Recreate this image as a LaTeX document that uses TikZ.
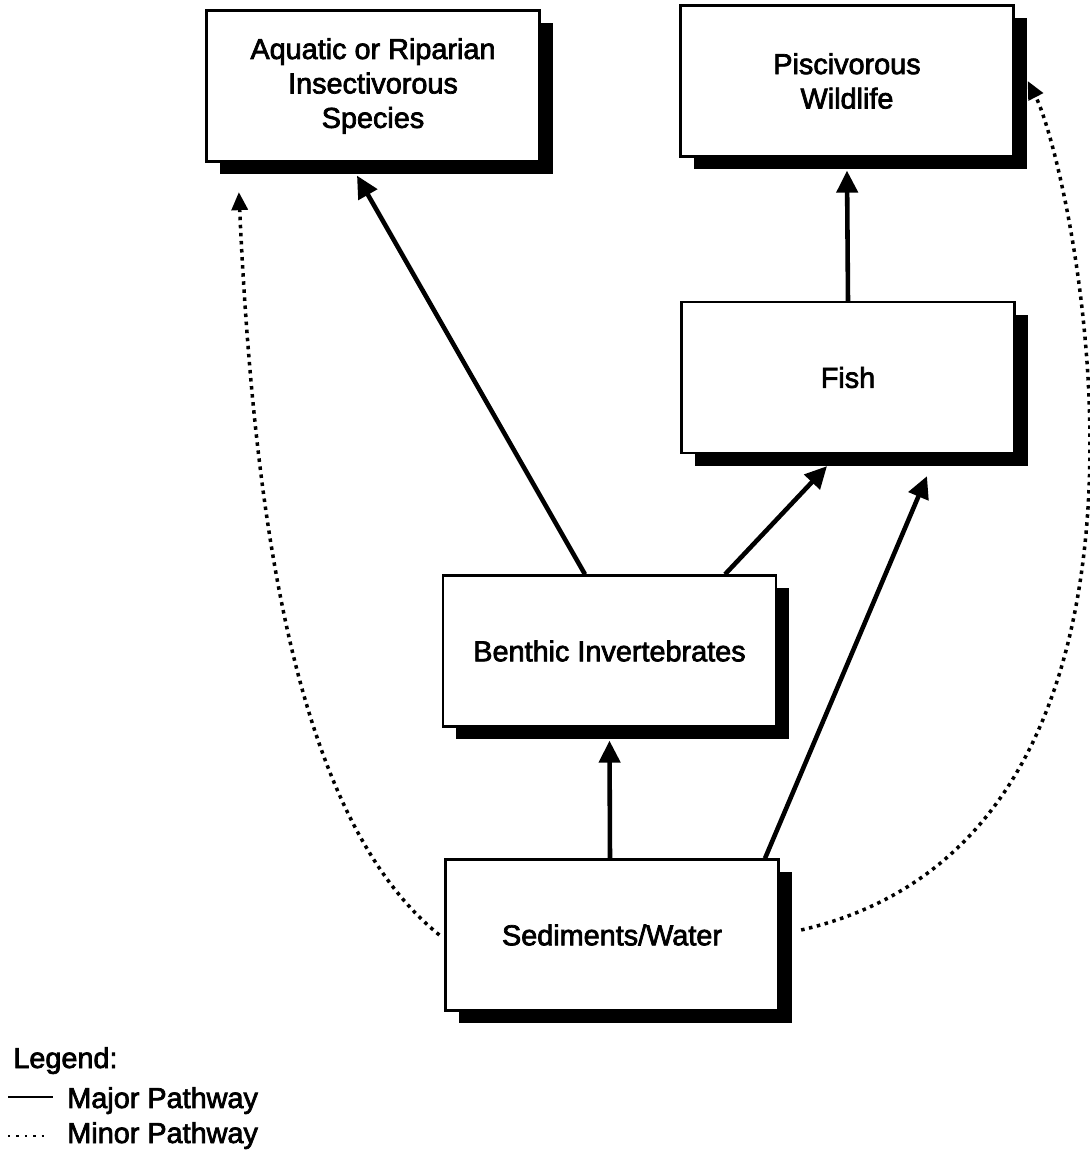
\documentclass[tikz,border=0pt]{standalone}
\usepackage{fontspec}
\setmainfont{Liberation Sans}
\newfontfamily\diagfont{Liberation Sans}[FakeBold=2.5]
\usetikzlibrary{arrows.meta, positioning, shadows}

\tikzset{
	box/.style={draw, line width=1.3pt, fill=white, minimum width=6.66cm, minimum height=3.02cm, inner sep=0pt, align=center,
		drop shadow={shadow xshift=0.26cm, shadow yshift=-0.26cm, fill=black, opacity=1}},
	major/.style={line width=2.6pt, -{Triangle[length=0.44cm,width=0.42cm]}},
	minor/.style={line width=2pt, dash pattern=on 2pt off 2.6pt, -{Triangle[length=0.36cm,width=0.32cm]}},
	legtext/.style={anchor=base west, inner sep=0pt}
}

\begin{document}
\begin{tikzpicture}[font=\diagfont\fontsize{16.4}{19.6}\selectfont]
	\useasboundingbox (0,0) rectangle (21.78,23.06);
	\node[box] (aquatic) at (7.46,21.34) {Aquatic or Riparian\\Insectivorous\\Species};
	\node[box] (pisc)    at (16.94,21.44) {Piscivorous\\Wildlife};
	\node[box] (fish)    at (16.96,15.51) {Fish};
	\node[box] (benthic) at (12.19,10.04) {Benthic Invertebrates};
	\node[box] (sed)     at (12.24,4.36)  {Sediments/Water};

	\draw[major] ([xshift=-4.9mm]benthic.north) -- ([xshift=-3.2mm,yshift=-2.6mm]aquatic.south);
	\draw[major] ([xshift=23.1mm]benthic.north) -- ([xshift=-4.2mm,yshift=-2.4mm]fish.south);
	\draw[major] (fish.north) -- ([yshift=-2.6mm]pisc.south);
	\draw[major] ([xshift=-0.4mm]sed.north) -- ([yshift=-2.6mm]benthic.south);
	\draw[major] ([xshift=30.6mm]sed.north) -- ([xshift=15.8mm,yshift=-4.4mm]fish.south);

	\draw[minor] ([xshift=-1mm]sed.west) .. controls +(-2.9,2.35) and +(0.3,-6.5) .. ([xshift=6.7mm,yshift=-5.9mm]aquatic.south west);
	\draw[minor] ([xshift=4.3mm,yshift=1mm]sed.east) .. controls +(8.33,1.92) and +(0.89,-1.73) .. ([xshift=2.6mm]pisc.east);

	\node[legtext] (legend) at (0.26,1.70) {Legend:};
	\node[legtext] (major)  at (1.34,0.90) {Major Pathway};
	\node[legtext] (minor)  at (1.34,0.20) {Minor Pathway};
	\coordinate (majA) at (0.16,1.12);
	\coordinate (majB) at (1.06,1.12);
	\coordinate (minA) at (0.16,0.34);
	\coordinate (minB) at (0.96,0.34);
	\draw[line width=0.9pt] (majA) -- (majB);
	\draw[line width=1.3pt, dash pattern=on 1.3pt off 3.5pt] (minA) -- (minB);
\end{tikzpicture}
\end{document}
